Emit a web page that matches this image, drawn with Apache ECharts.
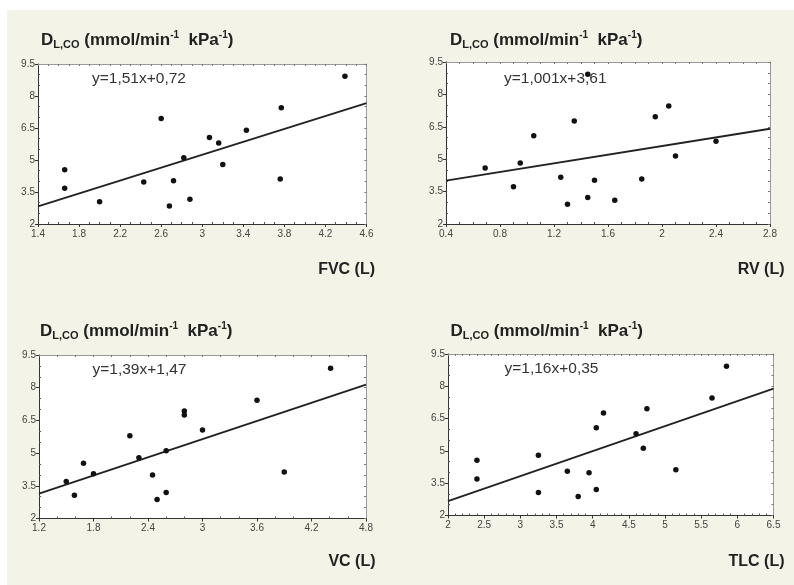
<!DOCTYPE html>
<html>
<head>
<meta charset="utf-8">
<script src="https://cdn.jsdelivr.net/npm/echarts@6/dist/echarts.min.js"></script>
<style>
html,body{margin:0;padding:0;background:#fff;}
#bg{position:absolute;left:7px;top:10px;width:787px;height:575px;background:#f3f3e7;}
#chart{position:absolute;left:0;top:0;width:794px;height:585px;}
</style>
</head>
<body>
<div id="bg"></div>
<div id="chart"></div>
<script>
// ---- data ----
const fvcX = [1.66,1.66,2.00,2.43,2.60,2.68,2.72,2.82,2.88,3.07,3.16,3.20,3.43,3.76,3.77,4.39];
const fvcY = [4.54,3.67,3.04,3.97,6.94,2.84,4.03,5.10,3.16,6.06,5.80,4.79,6.40,4.11,7.45,8.93];
const rvX  = [0.69,0.90,0.95,1.05,1.25,1.30,1.35,1.45,1.45,1.50,1.65,1.85,1.95,2.05,2.10,2.40];
const rvY  = [4.59,3.73,4.82,6.09,4.16,2.91,6.77,8.93,3.23,4.02,3.10,4.08,6.97,7.46,5.15,5.83];
const vcX  = [1.50,1.59,1.69,1.80,2.20,2.30,2.45,2.50,2.60,2.60,2.80,2.80,3.00,3.60,3.90,4.41];
const vcY  = [3.70,3.07,4.54,4.05,5.80,4.79,3.99,2.87,5.11,3.19,6.93,6.75,6.06,7.43,4.13,8.89];
const tlcX = [2.40,2.40,3.25,3.25,3.65,3.80,3.95,4.05,4.05,4.15,4.60,4.70,4.75,5.15,5.65,5.85];
const tlcY = [4.57,3.70,4.80,3.07,4.06,2.88,3.99,6.07,3.21,6.76,5.80,5.12,6.96,4.13,7.46,8.93];

const fvcFit = [[1.4,2.83],[4.6,7.67]];
const rvFit  = [[0.4,4.01],[2.8,6.41]];
const vcFit  = [[1.2,3.14],[4.8,8.14]];
const tlcFit = [[2.0,2.67],[6.5,7.89]];

const fvcTicks = [1.4,1.8,2.2,2.6,3,3.4,3.8,4.2,4.6];
const rvTicks  = [0.4,0.8,1.2,1.6,2,2.4,2.8];
const vcTicks  = [1.2,1.8,2.4,3,3.6,4.2,4.8];
const tlcTicks = [2,2.5,3,3.5,4,4.5,5,5.5,6,6.5];
const yTicks   = [2,3.5,5,6.5,8,9.5];

const equations = ['y=1,51x+0,72','y=1,001x+3,61','y=1,39x+1,47','y=1,16x+0,35'];
const xNames = ['FVC (L)','RV (L)','VC (L)','TLC (L)'];

// ---- layout ----
const FONT = "'Liberation Sans', Arial, sans-serif";
const panels = [
  {x:fvcX, y:fvcY, fit:fvcFit, ticks:fvcTicks, sub:4, grid:{left:38, top:64, width:328.5, height:160},
   title:[41,30], eq:[92,79], name:[375,270]},
  {x:rvX, y:rvY, fit:rvFit, ticks:rvTicks, sub:4, grid:{left:446, top:62, width:324, height:162},
   title:[450,30], eq:[504,79], name:[784.5,270]},
  {x:vcX, y:vcY, fit:vcFit, ticks:vcTicks, sub:3, grid:{left:39, top:355, width:327, height:163.5},
   title:[40,321.5], eq:[92.5,369.5], name:[375.5,562]},
  {x:tlcX, y:tlcY, fit:tlcFit, ticks:tlcTicks, sub:5, grid:{left:448, top:354, width:325.5, height:161.5},
   title:[450.5,321.5], eq:[504.5,369], name:[784.5,562]}
];

function minors(ticks, n){
  const out = [];
  for (let i = 0; i < ticks.length - 1; i++){
    const a = ticks[i], b = ticks[i+1];
    for (let k = 1; k < n; k++) out.push(a + (b - a) * k / n);
  }
  return out;
}
const fmt = v => String(+(+v).toFixed(2));

const grid = [], xAxis = [], yAxis = [], series = [], graphic = [];
panels.forEach((p, i) => {
  grid.push(Object.assign({show:true, backgroundColor:'#ffffff', borderWidth:0, containLabel:false}, p.grid));
  const xmin = p.ticks[0], xmax = p.ticks[p.ticks.length-1];
  const xMin = minors(p.ticks, p.sub), yMin = minors(yTicks, 3);
  const base = {gridIndex:i, type:'value', splitLine:{show:false}, animation:false};
  // bottom main
  xAxis.push(Object.assign({}, base, {position:'bottom', min:xmin, max:xmax,
    axisLine:{show:true, lineStyle:{color:'#333', width:1}},
    axisTick:{show:true, inside:false, length:3, customValues:p.ticks, lineStyle:{color:'#333'}},
    axisLabel:{show:true, customValues:p.ticks, formatter:fmt, color:'#444', fontSize:10, fontFamily:FONT, margin:5}}));
  // bottom minor
  xAxis.push(Object.assign({}, base, {position:'bottom', min:xmin, max:xmax,
    axisLine:{show:false},
    axisTick:{show:true, inside:true, length:2, customValues:xMin, lineStyle:{color:'#555'}},
    axisLabel:{show:false}}));
  // top
  xAxis.push(Object.assign({}, base, {position:'top', min:xmin, max:xmax,
    axisLine:{show:true, lineStyle:{color:'#999', width:1}},
    axisTick:{show:true, inside:true, length:2, customValues:p.ticks.concat(xMin), lineStyle:{color:'#777'}},
    axisLabel:{show:false}}));
  // left main
  yAxis.push(Object.assign({}, base, {position:'left', min:2, max:9.5,
    axisLine:{show:true, lineStyle:{color:'#333', width:1}},
    axisTick:{show:true, inside:false, length:3, customValues:yTicks, lineStyle:{color:'#333'}},
    axisLabel:{show:true, customValues:yTicks, formatter:fmt, color:'#444', fontSize:10, fontFamily:FONT, margin:3}}));
  // left minor
  yAxis.push(Object.assign({}, base, {position:'left', min:2, max:9.5,
    axisLine:{show:false},
    axisTick:{show:true, inside:true, length:2, customValues:yMin, lineStyle:{color:'#555'}},
    axisLabel:{show:false}}));
  // right
  yAxis.push(Object.assign({}, base, {position:'right', min:2, max:9.5,
    axisLine:{show:true, lineStyle:{color:'#999', width:1}},
    axisTick:{show:true, inside:true, length:2, customValues:yTicks.concat(yMin), lineStyle:{color:'#777'}},
    axisLabel:{show:false}}));

  series.push({type:'line', xAxisIndex:3*i, yAxisIndex:3*i, data:p.fit, showSymbol:false, symbol:'none',
    lineStyle:{color:'#222', width:1.8}, silent:true, z:2});
  series.push({type:'scatter', xAxisIndex:3*i, yAxisIndex:3*i, data:p.x.map((v,k)=>[v, p.y[k]]),
    symbolSize:5.5, itemStyle:{color:'#111', opacity:1}, z:3});

  graphic.push({type:'text', x:p.title[0], y:p.title[1], z:10, style:{
    text:'{b|D}{s|L,CO}{b| (mmol/min}{p|-1}{b|  kPa}{p|-1}{b|)}',
    verticalAlign:'top', align:'left',
    rich:{
      b:{fontSize:17, fontWeight:'bold', fontFamily:FONT, fill:'#222', lineHeight:20, verticalAlign:'bottom', height:20},
      s:{fontSize:11, fontWeight:'bold', fontFamily:FONT, fill:'#222', lineHeight:12, verticalAlign:'bottom'},
      p:{fontSize:10, fontWeight:'bold', fontFamily:FONT, fill:'#222', lineHeight:12, verticalAlign:'top'}
    }}});
  graphic.push({type:'text', x:p.eq[0], y:p.eq[1], z:10, style:{
    text:equations[i], fontSize:15.5, fontFamily:FONT, fill:'#333', verticalAlign:'middle', align:'left'}});
  graphic.push({type:'text', x:p.name[0], y:p.name[1], z:10, style:{
    text:xNames[i], fontSize:16, fontWeight:'bold', fontFamily:FONT, fill:'#222', verticalAlign:'middle', align:'right'}});
});

const chart = echarts.init(document.getElementById('chart'), null, {renderer:'canvas'});
chart.setOption({
  backgroundColor:'transparent',
  animation:false,
  grid, xAxis, yAxis, series, graphic
});
</script>
</body>
</html>
